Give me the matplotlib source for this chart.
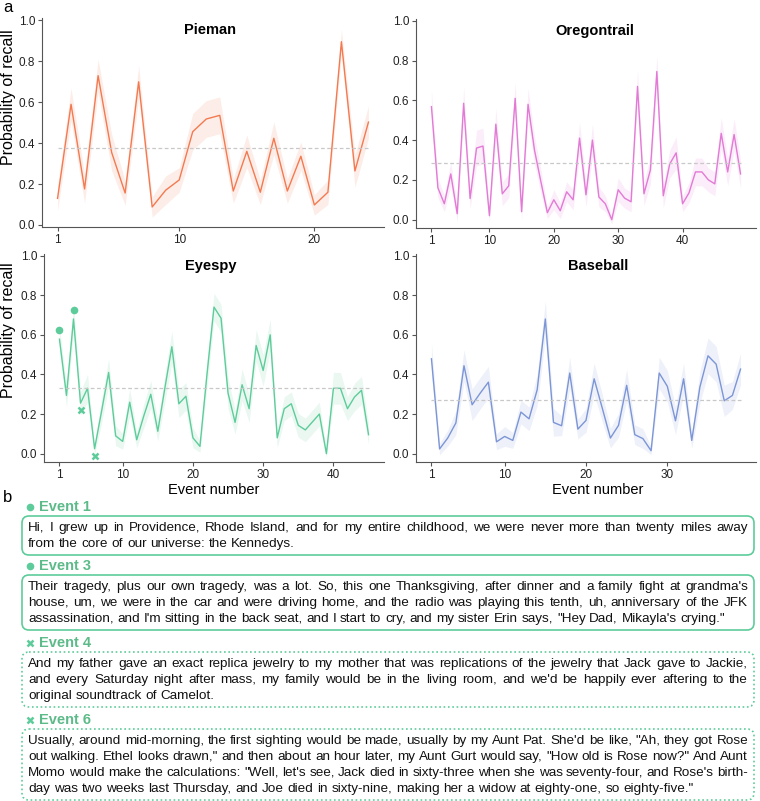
import math
import numpy as np
import matplotlib.pyplot as plt
from matplotlib.patches import FancyBboxPatch

plt.rcParams['font.family'] = ['Liberation Sans', 'DejaVu Sans']

W, H = 760, 801

# recall curves
pieman = [0.13, 0.59, 0.176, 0.73, 0.355, 0.156, 0.70, 0.088, 0.17, 0.22, 0.456, 0.518,
          0.536, 0.166, 0.36, 0.16, 0.424, 0.166, 0.336, 0.098, 0.16, 0.896, 0.264, 0.503]
pieman_ci = [0.06, 0.08, 0.07, 0.08, 0.09, 0.06, 0.08, 0.05, 0.07, 0.06, 0.09, 0.09,
             0.09, 0.06, 0.08, 0.06, 0.08, 0.06, 0.07, 0.05, 0.06, 0.06, 0.08, 0.08]

oregon = [0.568, 0.16, 0.08, 0.23, 0.03, 0.585, 0.106, 0.36, 0.37, 0.02, 0.48, 0.13,
          0.17, 0.61, 0.04, 0.58, 0.35, 0.19, 0.035, 0.10, 0.045, 0.14, 0.10, 0.41,
          0.125, 0.40, 0.114, 0.08, 0.0, 0.15, 0.108, 0.09, 0.67, 0.13, 0.25, 0.745,
          0.12, 0.28, 0.336, 0.08, 0.135, 0.24, 0.24, 0.20, 0.18, 0.434, 0.24, 0.428, 0.23]
oregon_ci = [0.08, 0.05, 0.04, 0.06, 0.04, 0.08, 0.05, 0.09, 0.09, 0.03, 0.08, 0.06,
             0.06, 0.08, 0.04, 0.08, 0.07, 0.06, 0.03, 0.05, 0.04, 0.05, 0.05, 0.08,
             0.06, 0.08, 0.05, 0.04, 0.02, 0.06, 0.05, 0.05, 0.08, 0.06, 0.07, 0.08,
             0.06, 0.07, 0.08, 0.04, 0.05, 0.07, 0.07, 0.06, 0.06, 0.08, 0.07, 0.08, 0.07]

eyespy = [0.578, 0.294, 0.68, 0.255, 0.33, 0.025, 0.215, 0.41, 0.09, 0.062, 0.26, 0.07,
          0.19, 0.30, 0.113, 0.33, 0.54, 0.252, 0.29, 0.08, 0.037, 0.40, 0.74, 0.684,
          0.306, 0.158, 0.348, 0.227, 0.546, 0.42, 0.60, 0.08, 0.227, 0.252, 0.143, 0.12,
          0.16, 0.20, 0.0, 0.33, 0.33, 0.227, 0.286, 0.32, 0.096]
eyespy_ci = [0.06, 0.06, 0.07, 0.06, 0.07, 0.03, 0.06, 0.07, 0.05, 0.04, 0.07, 0.04,
             0.06, 0.07, 0.05, 0.07, 0.08, 0.07, 0.07, 0.05, 0.03, 0.07, 0.07, 0.07,
             0.08, 0.06, 0.08, 0.07, 0.08, 0.08, 0.08, 0.05, 0.06, 0.06, 0.06, 0.06,
             0.06, 0.06, 0.02, 0.08, 0.08, 0.06, 0.07, 0.07, 0.05]

baseball = [0.479, 0.024, 0.079, 0.155, 0.444, 0.247, 0.306, 0.361, 0.06, 0.087, 0.067, 0.21,
            0.176, 0.323, 0.68, 0.158, 0.141, 0.407, 0.124, 0.168, 0.378, 0.23, 0.079, 0.143,
            0.345, 0.096, 0.076, 0.015, 0.407, 0.34, 0.166, 0.378, 0.067, 0.336, 0.494, 0.452,
            0.267, 0.294, 0.427]
baseball_ci = [0.08, 0.03, 0.04, 0.06, 0.08, 0.08, 0.08, 0.08, 0.04, 0.05, 0.04, 0.06,
               0.06, 0.08, 0.09, 0.07, 0.05, 0.08, 0.05, 0.06, 0.08, 0.07, 0.05, 0.06,
               0.08, 0.05, 0.05, 0.02, 0.08, 0.08, 0.07, 0.08, 0.04, 0.08, 0.09, 0.09,
               0.08, 0.07, 0.08]

means = {'Pieman': 0.375, 'Oregontrail': 0.285, 'Eyespy': 0.33, 'Baseball': 0.272}

# Eyespy events highlighted in panel b
hl_events = [1, 3, 4, 6]
hl_recalled = [True, True, False, False]

quotes = [
    ["Hi, I grew up in Providence, Rhode Island, and for my entire childhood, we were never more than twenty miles away",
     "from the core of our universe: the Kennedys."],
    ["Their tragedy, plus our own tragedy, was a lot. So, this one Thanksgiving, after dinner and a family fight at grandma's",
     "house, um, we were in the car and were driving home, and the radio was playing this tenth, uh, anniversary of the JFK",
     "assassination, and I'm sitting in the back seat, and I start to cry, and my sister Erin says, \"Hey Dad, Mikayla's crying.\""],
    ["And my father gave an exact replica jewelry to my mother that was replications of the jewelry that Jack gave to Jackie,",
     "and every Saturday night after mass, my family would be in the living room, and we'd be happily ever aftering to the",
     "original soundtrack of Camelot."],
    ["Usually, around mid-morning, the first sighting would be made, usually by my Aunt Pat. She'd be like, \"Ah, they got Rose",
     "out walking. Ethel looks drawn,\" and then about an hour later, my Aunt Gurt would say, \"How old is Rose now?\" And Aunt",
     "Momo would make the calculations: \"Well, let's see, Jack died in sixty-three when she was seventy-four, and Rose's birth-",
     "day was two weeks last Thursday, and Joe died in sixty-nine, making her a widow at eighty-one, so eighty-five.\""],
]

GREEN = '#5dcc9a'
DARK_GREEN = '#5cbb88'


def px_axes(fig, left, right, top, bottom):
    return fig.add_axes([left / W, 1 - bottom / H, (right - left) / W, (bottom - top) / H])


def draw_panel(ax, name, vals, ci, color, xticks, ylim, title_x):
    vals = np.array(vals)
    ci = np.array(ci)
    n = len(vals)
    x = np.arange(1, n + 1)
    ax.fill_between(x, vals - ci, vals + ci, color=color, alpha=0.13, lw=0)
    ax.plot(x, vals, color=color, lw=1.0)
    ax.plot([1, n], [means[name]] * 2, color='#c8c8c8', lw=0.9, ls=(0, (3, 2)))
    pad = 0.05 * (n - 1)
    ax.set_xlim(1 - pad, n + pad)
    ax.set_ylim(*ylim)
    ax.set_xticks(xticks)
    ax.set_yticks([0, 0.2, 0.4, 0.6, 0.8, 1.0])
    ax.set_yticklabels(['0.0', '0.2', '0.4', '0.6', '0.8', '1.0'])
    for s in ['top', 'right']:
        ax.spines[s].set_visible(False)
    for s in ['left', 'bottom']:
        ax.spines[s].set_color('#555555')
        ax.spines[s].set_linewidth(0.8)
    ax.tick_params(direction='out', length=3, width=0.8, color='#555555',
                   labelsize=8.5, labelcolor='#222222', pad=2)
    ax.text(title_x, 0.944, name, transform=ax.transAxes, ha='center', va='center',
            fontsize=10.5, fontweight='bold')
    return x, vals


fig = plt.figure(figsize=(W / 100, H / 100), dpi=100)

ax1 = px_axes(fig, 42, 384, 18, 227)
draw_panel(ax1, 'Pieman', pieman, pieman_ci, '#f37a50', [1, 10, 20], (-0.01, 1.012), 0.49)

ax2 = px_axes(fig, 416, 756, 19, 228)
draw_panel(ax2, 'Oregontrail', oregon, oregon_ci, '#e27ad6', [1, 10, 20, 30, 40], (-0.042, 1.009), 0.526)

ax3 = px_axes(fig, 44, 384, 254, 462)
x3, v3 = draw_panel(ax3, 'Eyespy', eyespy, eyespy_ci, GREEN, [1, 10, 20, 30, 40], (-0.042, 1.008), 0.49)

ax4 = px_axes(fig, 416, 756, 254, 462)
draw_panel(ax4, 'Baseball', baseball, baseball_ci, '#7c95d6', [1, 10, 20, 30], (-0.042, 1.008), 0.536)

# markers for the highlighted events
for ev, rec in zip(hl_events, hl_recalled):
    if rec:
        ax3.plot(ev, v3[ev - 1] + 0.045, 'o', color=GREEN, ms=5.5, mec='none', clip_on=False)
    else:
        ax3.plot(ev, v3[ev - 1] - 0.036, 'x', color=GREEN, ms=4.5, mew=1.8, clip_on=False)

# overlay in pixel coordinates for labels and panel b
ov = fig.add_axes([0, 0, 1, 1])
ov.set_xlim(0, W)
ov.set_ylim(H, 0)
ov.axis('off')

ov.text(3, 8, 'a', fontsize=12, va='center', ha='left')
ov.text(3, 497, 'b', fontsize=12, va='center', ha='left')
for yc in [97, 330]:
    ov.text(9, yc, 'Probability of recall', rotation=90, fontsize=11.5, ha='center', va='center')
ov.text(214, 490, 'Event number', fontsize=10.5, ha='center', va='center')
ov.text(598, 490, 'Event number', fontsize=10.5, ha='center', va='center')

renderer = fig.canvas.get_renderer()

label_y = [507, 566, 643, 720]
box_top = [516, 575, 652, 729]
line_h = 16
box_l, box_r = 22, 754
txt_l, txt_r = box_l + 6, box_r - 6
txt_size = 9.7


def word_metrics(s):
    t = ov.text(0, 0, s, fontsize=txt_size)
    w = t.get_window_extent(renderer).width
    _, h, d = renderer.get_text_width_height_descent(s, t.get_fontproperties(), ismath=False)
    t.remove()
    return w, h, d


space_w = word_metrics('a a')[0] - word_metrics('aa')[0]

for i, (ev, rec, lines) in enumerate(zip(hl_events, hl_recalled, quotes)):
    ly = label_y[i]
    if rec:
        ov.plot(box_l + 8, ly, 'o', color=GREEN, ms=5.5, mec='none')
    else:
        ov.plot(box_l + 8, ly, 'x', color=GREEN, ms=4.5, mew=1.8)
    ov.text(box_l + 17, ly, f'Event {ev}', color=DARK_GREEN, fontsize=10.5,
            fontweight='bold', va='center', ha='left')
    top = box_top[i]
    bottom = top + len(lines) * line_h + 7
    box = FancyBboxPatch((box_l, top), box_r - box_l, bottom - top,
                         boxstyle='round,pad=0,rounding_size=7',
                         fc='none', ec=GREEN, lw=1.2,
                         ls='-' if rec else (0, (1, 1.6)))
    ov.add_patch(box)
    for k, line in enumerate(lines):
        yk = top + 15 + line_h * k
        words = line.split(' ')
        metrics = [word_metrics(w) for w in words]
        widths = [m[0] for m in metrics]
        last = k == len(lines) - 1
        gap = space_w
        if not last and len(words) > 1:
            gap = max(space_w * 0.6, (txt_r - txt_l - sum(widths)) / (len(words) - 1))
        xk = txt_l
        for w, (wd, hh, d) in zip(words, metrics):
            # compensate the renderer's pixel rounding of each word's bitmap
            shift = math.floor(hh) - math.floor(hh - d) - d + 0.001
            ov.text(xk, yk + shift, w, fontsize=txt_size,
                    va='baseline', ha='left', color='#111111')
            xk += wd + gap

fig.savefig('out.png', dpi=100)
